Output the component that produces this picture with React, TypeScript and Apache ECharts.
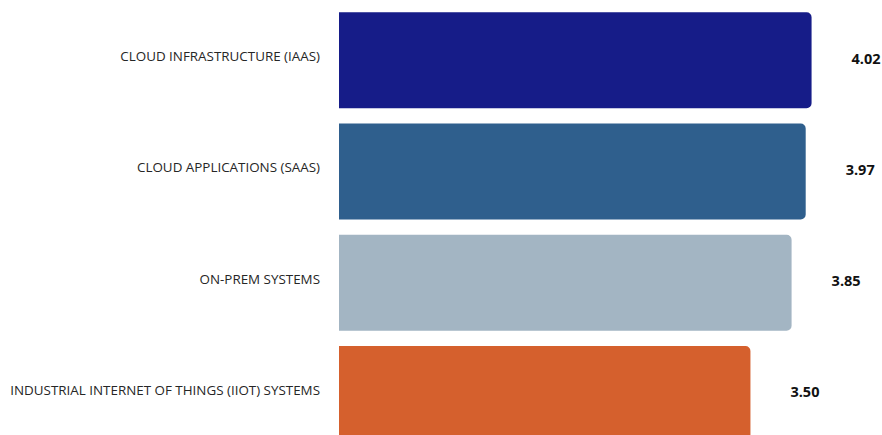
import React, { useEffect, useRef } from "react";
import * as echarts from "echarts";

const categories = [
  "CLOUD INFRASTRUCTURE (IAAS)",
  "CLOUD APPLICATIONS (SAAS)",
  "ON-PREM SYSTEMS",
  "INDUSTRIAL INTERNET OF THINGS (IIOT) SYSTEMS",
];
const values = [4.02, 3.97, 3.85, 3.5];
const colors = ["#161c88", "#2f5f8d", "#a3b5c3", "#d5602d"];

export default function App() {
  const ref = useRef<HTMLDivElement>(null);
  useEffect(() => {
    if (!ref.current) return;
    const chart = echarts.init(ref.current, null, { renderer: "svg" });
    chart.setOption({
      animation: false,
      grid: { left: 339, top: 4.6, right: 14, height: 445, containLabel: false },
      xAxis: {
        type: "value",
        min: 0,
        max: 4.5,
        show: false,
      },
      yAxis: {
        type: "category",
        data: categories,
        inverse: true,
        axisLine: { show: false },
        axisTick: { show: false },
        splitLine: { show: false },
        axisLabel: {
          margin: 19,
          formatter: (v: string) => `{a|${v}}`,
          rich: {
            a: {
              fontFamily: "Open Sans",
              fontSize: 13.4,
              color: "#262626",
              padding: [0, 0, 8, 0],
            },
          },
        },
      },
      series: [
        {
          type: "bar",
          barWidth: 96,
          data: values.map((v, i) => ({
            value: v,
            itemStyle: { color: colors[i], borderRadius: [0, 5, 5, 0] },
          })),
          label: {
            show: true,
            position: "right",
            distance: 40,
            formatter: (p: any) => `{b|${Number(p.value).toFixed(2)}}`,
            rich: {
              b: {
                fontFamily: "Open Sans",
                fontSize: 14.5,
                fontWeight: "bold",
                color: "#111",
                padding: [0, 0, 4, 0],
              },
            },
          },
        },
      ],
    });
    return () => chart.dispose();
  }, []);
  return (
    <div
      style={{ position: "absolute", left: 0, top: 0, width: 882, height: 435, overflow: "hidden", background: "#fff" }}
    >
      <div ref={ref} style={{ width: 882, height: 460 }} />
    </div>
  );
}
